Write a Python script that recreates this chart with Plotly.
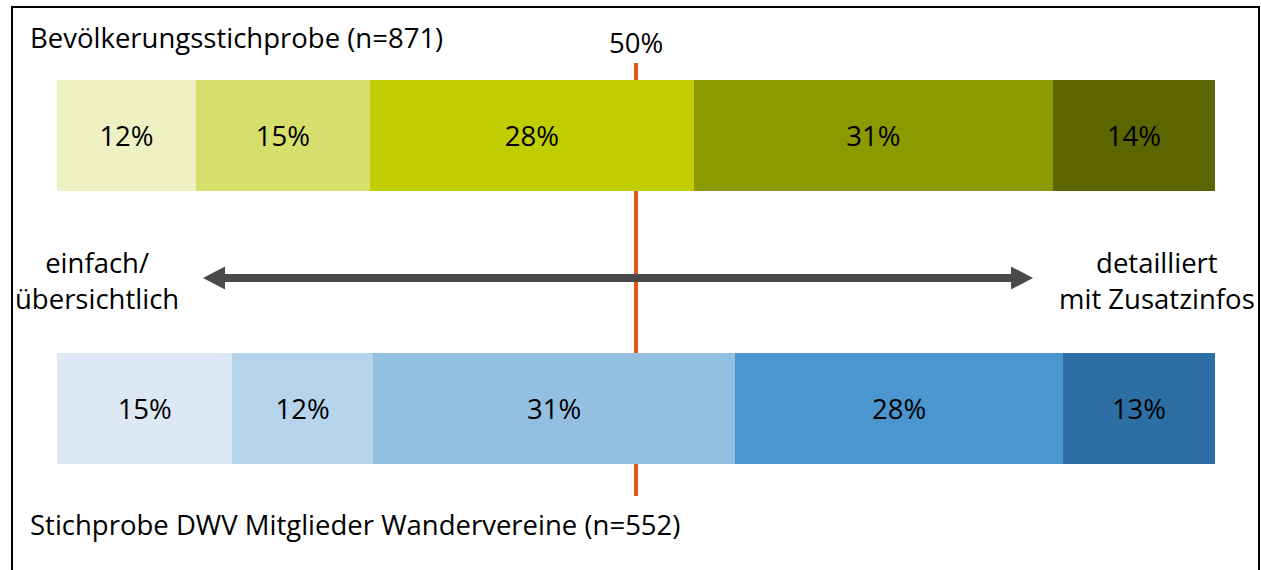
import plotly.graph_objects as go

# Data
groups = ["Bevölkerungsstichprobe (n=871)", "Stichprobe DWV Mitglieder Wandervereine (n=552)"]
group_keys = ["pop", "dwv"]
pop_values = [12, 15, 28, 31, 14]
dwv_values = [15, 12, 31, 28, 13]
pop_colors = ["#EEF2C3", "#D6DF6B", "#C0CE00", "#8C9A00", "#5D6500"]
dwv_colors = ["#DCE8F4", "#B6D4EC", "#93C0E0", "#4B96CF", "#2D6FA5"]
left_label = "einfach/<br>übersichtlich"
right_label = "detailliert<br>mit Zusatzinfos"
mid_value = 50

FONT = "Open Sans"
FS = 27.5

W, H = 1261, 570
ML, MR = 57, 46
PW = W - ML - MR


def px_x(p):
    return (p - ML) / PW


def px_y(p):
    return 1 - p / H


fig = go.Figure()
for i in range(5):
    fig.add_trace(go.Bar(
        orientation="h",
        y=[group_keys[0], group_keys[1]],
        x=[pop_values[i], dwv_values[i]],
        marker=dict(color=[pop_colors[i], dwv_colors[i]], line=dict(width=0)),
        text=[f"{pop_values[i]}%", f"{dwv_values[i]}%"],
        textposition="inside",
        insidetextanchor="middle",
        textangle=0,
        constraintext="none",
        textfont=dict(family=FONT, size=FS, color="#000000"),
        hoverinfo="skip",
        showlegend=False,
    ))

shapes = [
    # 50% reference line
    dict(type="line", xref="x", yref="paper", x0=mid_value, x1=mid_value,
         y0=px_y(496), y1=px_y(63), line=dict(color="#E4561B", width=4), layer="below"),
    # arrow shaft
    dict(type="line", xref="paper", yref="paper", x0=px_x(222), x1=px_x(1014),
         y0=px_y(278), y1=px_y(278), line=dict(color="#4A4A4A", width=8), layer="above"),
    # arrow heads
    dict(type="path", xref="paper", yref="paper", layer="above",
         path=f"M {px_x(203)},{px_y(278)} L {px_x(225)},{px_y(266.5)} L {px_x(225)},{px_y(289.5)} Z",
         fillcolor="#4A4A4A", line=dict(width=0)),
    dict(type="path", xref="paper", yref="paper", layer="above",
         path=f"M {px_x(1033)},{px_y(278)} L {px_x(1011)},{px_y(266.5)} L {px_x(1011)},{px_y(289.5)} Z",
         fillcolor="#4A4A4A", line=dict(width=0)),
    # frame
    dict(type="line", xref="paper", yref="paper", x0=px_x(12), x1=px_x(12),
         y0=-0.1, y1=px_y(7), line=dict(color="#000000", width=2)),
    dict(type="line", xref="paper", yref="paper", x0=px_x(1259), x1=px_x(1259),
         y0=-0.1, y1=px_y(7), line=dict(color="#000000", width=2)),
    dict(type="line", xref="paper", yref="paper", x0=px_x(11), x1=px_x(1260),
         y0=px_y(7), y1=px_y(7), line=dict(color="#000000", width=2)),
]

font = dict(family=FONT, size=FS, color="#000000")
annotations = [
    dict(text=groups[0], xref="paper", yref="paper", x=px_x(28), y=px_y(38),
         xanchor="left", yanchor="middle", showarrow=False, font=font),
    dict(text=groups[1], xref="paper", yref="paper", x=px_x(28), y=px_y(524),
         xanchor="left", yanchor="middle", showarrow=False, font=font),
    dict(text=f"{mid_value}%", xref="x", yref="paper", x=mid_value, y=px_y(42),
         xanchor="center", yanchor="middle", showarrow=False, font=font),
    dict(text=left_label, xref="paper", yref="paper", x=px_x(97), y=px_y(280),
         xanchor="center", yanchor="middle", showarrow=False, font=font, align="center"),
    dict(text=right_label, xref="paper", yref="paper", x=px_x(1157), y=px_y(280),
         xanchor="center", yanchor="middle", showarrow=False, font=font, align="center"),
]

# y category spacing: bar centres at 135.5 and 408.5 px, thickness ~110 px
spacing = 408.5 - 135.5
y_top = 0 - 135.5 / spacing
y_bot = 1 + (H - 408.5) / spacing

fig.update_layout(
    width=W, height=H,
    margin=dict(l=ML, r=MR, t=0, b=0),
    barmode="stack",
    barnorm="percent",
    bargap=1 - 110.5 / spacing,
    paper_bgcolor="white",
    plot_bgcolor="white",
    xaxis=dict(range=[0, 100], visible=False, fixedrange=True),
    yaxis=dict(type="category", categoryorder="array", categoryarray=group_keys,
               range=[y_bot, y_top], visible=False, fixedrange=True),
    shapes=shapes,
    annotations=annotations,
    font=font,
)

fig.write_html("out.html", config={"displayModeBar": False})
